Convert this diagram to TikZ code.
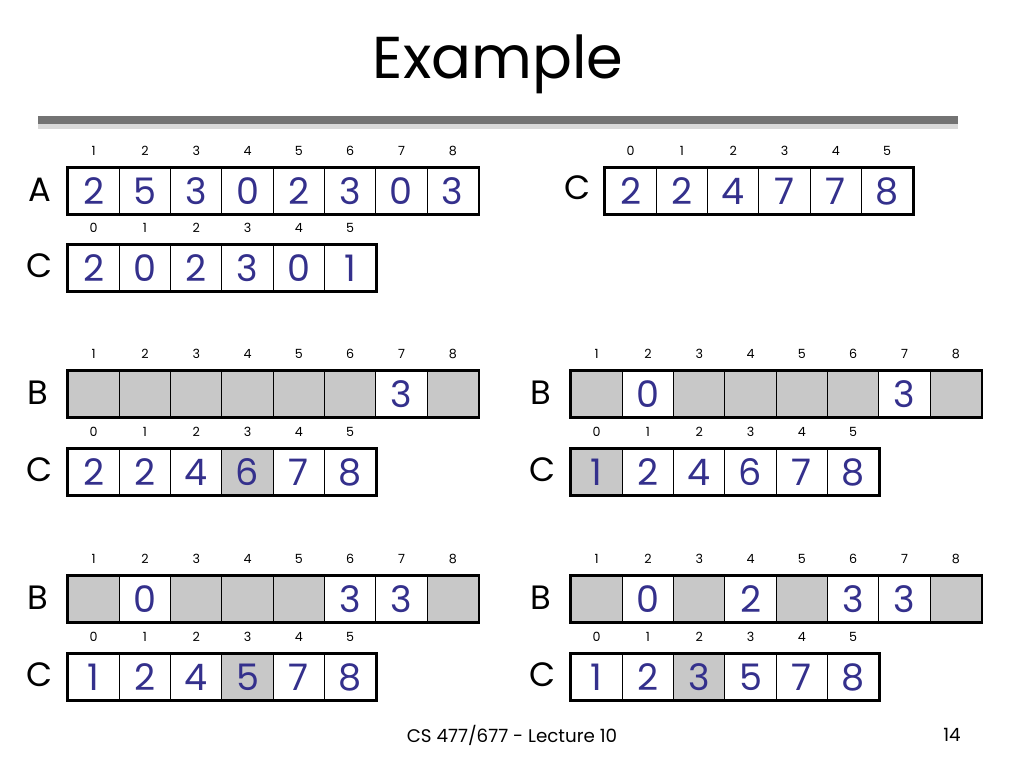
\documentclass[tikz,border=0pt]{standalone}
\usepackage{fontspec}
\setmainfont{Poppins}
\usetikzlibrary{positioning}
\definecolor{digitblue}{RGB}{52,48,140}
\definecolor{shade}{RGB}{200,200,200}
\newcommand{\arr}[5]{% name, left x, top y, first index, cells value/fill
  \foreach \v/\f [count=\i] in {#5}
    {
    \pgfmathtruncatemacro{\idx}{#4+\i-1};
    \node[cell,fill=\f] (#1-\i) at (#2+51.3*\i-25.65,#3+23) {\v};
    \node[index] (#1-i\i) at (#2+51.3*\i-25.65,#3-17) {\idx};
    }
}
\begin{document}
\begin{tikzpicture}[x=0.025cm,y=-0.025cm,
    cell/.style={draw=black,line width=0.8pt,minimum width=51.3*0.025cm,minimum height=46*0.025cm,
      inner sep=0pt,text=digitblue,font=\fontsize{26}{26}\selectfont},
    index/.style={font=\fontsize{9}{9}\selectfont,text=black},
    letter/.style={font=\fontsize{24}{24}\selectfont,text=black},
    outline/.style={draw=black,line width=2pt}
  ]
  \useasboundingbox (0,0) rectangle (1024,768);
  \node (title) at (498,64) {\fontsize{42}{42}\selectfont Example};
  \draw[line width=8pt,black!15] (38,123) -- (958,123);
  \draw[line width=5pt,black!55] (38,120) -- (958,120);
  % first row
  \node[letter] (la) at (40,190) {A};
  \arr{a}{68}{168}{1}{2/white,5/white,3/white,0/white,2/white,3/white,0/white,3/white}
  \draw[outline] (a-1.north west) rectangle (a-8.south east);
  \node[letter] (lc1) at (578,188) {C};
  \arr{c1}{605}{168}{0}{2/white,2/white,4/white,7/white,7/white,8/white}
  \draw[outline] (c1-1.north west) rectangle (c1-6.south east);
  \node[letter] (lc0) at (40,266) {C};
  \arr{c0}{68}{245}{0}{2/white,0/white,2/white,3/white,0/white,1/white}
  \draw[outline] (c0-1.north west) rectangle (c0-6.south east);
  % step 1
  \node[letter] (lb2) at (38,393) {B};
  \arr{b2}{68}{371}{1}{/shade,/shade,/shade,/shade,/shade,/shade,3/white,/shade}
  \draw[outline] (b2-1.north west) rectangle (b2-8.south east);
  \node[letter] (lc2) at (40,470) {C};
  \arr{c2}{68}{449}{0}{2/white,2/white,4/white,6/shade,7/white,8/white}
  \draw[outline] (c2-1.north west) rectangle (c2-6.south east);
  % step 2
  \node[letter] (lb3) at (541,393) {B};
  \arr{b3}{571}{371}{1}{/shade,0/white,/shade,/shade,/shade,/shade,3/white,/shade}
  \draw[outline] (b3-1.north west) rectangle (b3-8.south east);
  \node[letter] (lc3) at (543,470) {C};
  \arr{c3}{571}{449}{0}{1/shade,2/white,4/white,6/white,7/white,8/white}
  \draw[outline] (c3-1.north west) rectangle (c3-6.south east);
  % step 3
  \node[letter] (lb4) at (38,598) {B};
  \arr{b4}{68}{576}{1}{/shade,0/white,/shade,/shade,/shade,3/white,3/white,/shade}
  \draw[outline] (b4-1.north west) rectangle (b4-8.south east);
  \node[letter] (lc4) at (40,675) {C};
  \arr{c4}{68}{654}{0}{1/white,2/white,4/white,5/shade,7/white,8/white}
  \draw[outline] (c4-1.north west) rectangle (c4-6.south east);
  % step 4
  \node[letter] (lb5) at (541,598) {B};
  \arr{b5}{571}{576}{1}{/shade,0/white,/shade,2/white,/shade,3/white,3/white,/shade}
  \draw[outline] (b5-1.north west) rectangle (b5-8.south east);
  \node[letter] (lc5) at (543,675) {C};
  \arr{c5}{571}{654}{0}{1/white,2/white,3/shade,5/white,7/white,8/white}
  \draw[outline] (c5-1.north west) rectangle (c5-6.south east);
  \node[font=\fontsize{13}{13}\selectfont] (foot) at (512,735) {CS 477/677 - Lecture 10};
  \node[font=\fontsize{13}{13}\selectfont] (page) at (952,735) {14};
\end{tikzpicture}
\end{document}
